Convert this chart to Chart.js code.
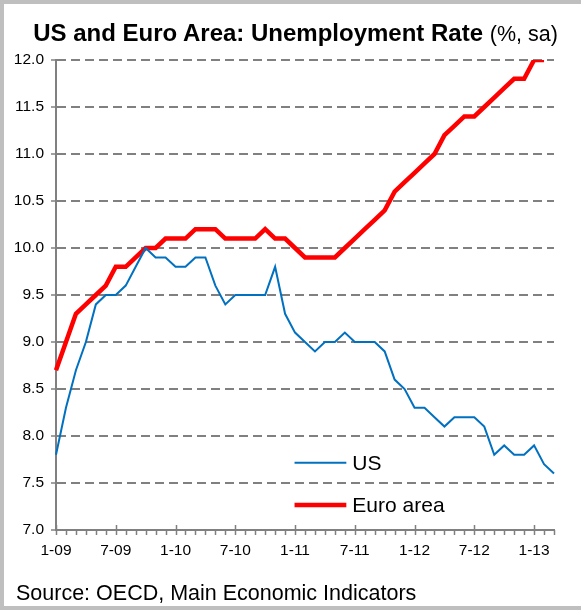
<!DOCTYPE html>
<html>
<head>
<meta charset="utf-8">
<script src="https://cdn.jsdelivr.net/npm/chart.js@4.4.0/dist/chart.umd.min.js"></script>
<style>
  body { margin: 0; background: #fff; }
  .frame {
    position: relative; width: 577px; height: 602px;
    border-left: 4px solid #bfbfbf; border-top: 4px solid #bfbfbf; border-bottom: 4px solid #bfbfbf;
    font-family: "Liberation Sans", Arial, sans-serif;
  }
  #chart { position: absolute; left: -4px; top: -4px; }
  .title {
    position: absolute; left: -4px; top: 15px; width: 591px; text-align: center;
    font-size: 24px; font-weight: bold; color: #000; white-space: nowrap;
  }
  .title span { font-weight: normal; font-size: 21.5px; }
  .source {
    position: absolute; left: 12px; top: 577px; font-size: 21.5px; color: #000; white-space: nowrap;
  }
</style>
</head>
<body>
<div class="frame">
  <canvas id="chart" width="581" height="610"></canvas>
  <div class="title">US and Euro Area: Unemployment Rate <span>(%, sa)</span></div>
  <div class="source">Source: OECD, Main Economic Indicators</div>
</div>
<script>
const months = [
  '1-09','2-09','3-09','4-09','5-09','6-09','7-09','8-09','9-09','10-09','11-09','12-09',
  '1-10','2-10','3-10','4-10','5-10','6-10','7-10','8-10','9-10','10-10','11-10','12-10',
  '1-11','2-11','3-11','4-11','5-11','6-11','7-11','8-11','9-11','10-11','11-11','12-11',
  '1-12','2-12','3-12','4-12','5-12','6-12','7-12','8-12','9-12','10-12','11-12','12-12',
  '1-13','2-13','3-13'
];
const usRate = [
  7.8, 8.3, 8.7, 9.0, 9.4, 9.5, 9.5, 9.6, 9.8, 10.0, 9.9, 9.9,
  9.8, 9.8, 9.9, 9.9, 9.6, 9.4, 9.5, 9.5, 9.5, 9.5, 9.8, 9.3,
  9.1, 9.0, 8.9, 9.0, 9.0, 9.1, 9.0, 9.0, 9.0, 8.9, 8.6, 8.5,
  8.3, 8.3, 8.2, 8.1, 8.2, 8.2, 8.2, 8.1, 7.8, 7.9, 7.8, 7.8,
  7.9, 7.7, 7.6
];
const euroRate = [
  8.7, 9.0, 9.3, 9.4, 9.5, 9.6, 9.8, 9.8, 9.9, 10.0, 10.0, 10.1,
  10.1, 10.1, 10.2, 10.2, 10.2, 10.1, 10.1, 10.1, 10.1, 10.2, 10.1, 10.1,
  10.0, 9.9, 9.9, 9.9, 9.9, 10.0, 10.1, 10.2, 10.3, 10.4, 10.6, 10.7,
  10.8, 10.9, 11.0, 11.2, 11.3, 11.4, 11.4, 11.5, 11.6, 11.7, 11.8, 11.8,
  12.0, 12.0, null
];
const yTicks = [7.0, 7.5, 8.0, 8.5, 9.0, 9.5, 10.0, 10.5, 11.0, 11.5, 12.0];

const axisGray = '#808080';
const fontFamily = '"Liberation Sans", Arial, sans-serif';

// month tick marks on the x axis, longer ones at each labelled month
const xTickMarks = {
  id: 'xTickMarks',
  beforeDatasetsDraw(chart) {
    const {ctx, chartArea, scales: {x}} = chart;
    const b = chartArea.bottom;
    ctx.save();
    ctx.strokeStyle = axisGray;
    ctx.lineWidth = 1.5;
    ctx.beginPath();
    months.forEach((m, i) => {
      const px = Math.round(x.getPixelForValue(i)) + 0.5;
      const major = i % 6 === 0;
      ctx.moveTo(px, major ? b - 5 : b);
      ctx.lineTo(px, b + 5);
    });
    ctx.stroke();
    ctx.restore();
  }
};

// legend inside the plot area
const innerLegend = {
  id: 'innerLegend',
  afterDraw(chart) {
    const {ctx, chartArea: a} = chart;
    const w = a.right - a.left, h = a.bottom - a.top;
    const rows = [0.857, 0.947];
    ctx.save();
    ctx.font = '21px ' + fontFamily;
    ctx.textBaseline = 'middle';
    chart.data.datasets.forEach((ds, i) => {
      const y = a.top + rows[i] * h;
      const x0 = a.left + 0.479 * w;
      const x1 = a.left + 0.583 * w;
      ctx.strokeStyle = ds.borderColor;
      ctx.lineWidth = ds.borderWidth;
      ctx.beginPath();
      ctx.moveTo(x0, y);
      ctx.lineTo(x1, y);
      ctx.stroke();
      ctx.fillStyle = '#000';
      ctx.fillText(ds.label, x1 + 6, y + 1);
    });
    ctx.restore();
  }
};

new Chart(document.getElementById('chart'), {
  type: 'line',
  data: {
    labels: months,
    datasets: [
      { label: 'US', data: usRate, borderColor: '#0070C0', borderWidth: 2, pointRadius: 0, tension: 0 },
      { label: 'Euro area', data: euroRate, borderColor: '#FF0000', borderWidth: 4.5, pointRadius: 0, tension: 0 }
    ]
  },
  options: {
    responsive: false,
    animation: false,
    layout: { padding: { left: 0, right: 27, top: 60, bottom: 40 } },
    plugins: { legend: { display: false }, tooltip: { enabled: false } },
    scales: {
      x: {
        offset: false,
        grid: { display: false, drawTicks: false },
        border: { display: true, color: axisGray, width: 2 },
        ticks: {
          autoSkip: false, maxRotation: 0, padding: 11,
          color: '#000', font: { family: fontFamily, size: 15.5 },
          callback: (v, i) => (i % 6 === 0 ? months[i] : '')
        },
        afterFit: s => { s.height = 40; }
      },
      y: {
        min: 7, max: 12,
        afterBuildTicks: s => { s.ticks = yTicks.map(v => ({ value: v })); },
        grid: { color: axisGray, lineWidth: 2, tickLength: 5, tickColor: axisGray, tickWidth: 1.5, tickBorderDash: [] },
        border: { display: true, color: axisGray, width: 2, dash: [9, 5] },
        ticks: {
          padding: 7, color: '#000',
          font: { family: fontFamily, size: 15.5 },
          callback: v => v.toFixed(1)
        },
        afterFit: s => { s.width = 56; }
      }
    }
  },
  plugins: [xTickMarks, innerLegend]
});
</script>
</body>
</html>
